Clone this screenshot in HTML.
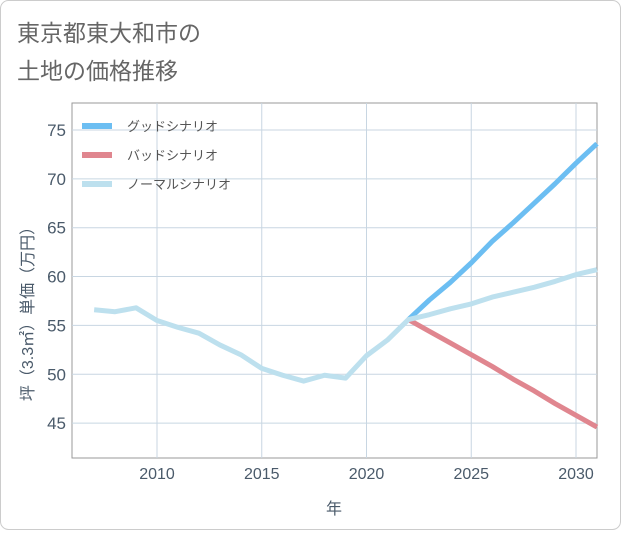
<!DOCTYPE html>
<html><head><meta charset="utf-8"><style>
body{margin:0;background:#fff;}
svg text{font-family:"Liberation Sans","Noto Sans CJK JP",sans-serif;}
</style></head><body>
<svg width="621" height="530" xmlns="http://www.w3.org/2000/svg" id="chart">
<rect x="0.5" y="0.5" width="620" height="529" rx="8" fill="#fff" stroke="#ccc"/>
<text x="17" y="41" font-size="23" fill="#666">東京都東大和市の</text>
<text x="17" y="79" font-size="23" fill="#666">土地の価格推移</text>
<g id="grid"></g>
<g id="lines"></g>
<g id="legend"></g>
<text x="334" y="514" font-size="16" fill="#4a5a6a" text-anchor="middle">年</text>
<text transform="translate(33,310) rotate(-90)" font-size="16" fill="#4a5a6a" text-anchor="middle">坪（3.3㎡）単価（万円）</text>
</svg>
<script>
const years=[2007,2008,2009,2010,2011,2012,2013,2014,2015,2016,2017,2018,2019,2020,2021,2022,2023,2024,2025,2026,2027,2028,2029,2030,2031];
const normal=[56.6,56.4,56.8,55.5,54.8,54.2,53.0,52.0,50.6,49.9,49.3,49.9,49.6,51.9,53.5,55.6,56.1,56.7,57.2,57.9,58.4,58.9,59.5,60.2,60.7];
const goodYears=[2022,2023,2024,2025,2026,2027,2028,2029,2030,2031];
const good=[55.6,57.6,59.4,61.4,63.6,65.5,67.5,69.5,71.6,73.6];
const bad=[55.6,54.4,53.2,52.0,50.8,49.5,48.3,47.0,45.8,44.6];
const xTicks=[2010,2015,2020,2025,2030];
const yTicks=[45,50,55,60,65,70,75];
const legendLabels=["グッドシナリオ","バッドシナリオ","ノーマルシナリオ"];
const NS="http://www.w3.org/2000/svg";
const L=72,R=597,T=103,B=458;
const x=v=>157+(v-2010)*20.95;
const y=v=>130+(75-v)*9.77;
function mk(tag,attrs,parent){const e=document.createElementNS(NS,tag);for(const k in attrs)e.setAttribute(k,attrs[k]);parent.appendChild(e);return e;}
const grid=document.getElementById('grid');
mk('rect',{x:L,y:T,width:R-L,height:B-T,fill:'#fff',stroke:'#999','stroke-width':1},grid);
xTicks.forEach(t=>{
 const l=mk('line',{x1:x(t),x2:x(t),y1:T,y2:B,stroke:'#c8d6e2'},grid);
 
 
 const tx=mk('text',{x:x(t),y:479,'font-size':16,fill:'#4a5a6a','text-anchor':'middle'},grid);
 tx.textContent=t;
 
 
});
yTicks.forEach(t=>{
 const l=mk('line',{x1:L,x2:R,y1:y(t),y2:y(t),stroke:'#c8d6e2'},grid);
 
 
 const tx=mk('text',{x:66,y:y(t)+6,'font-size':17,fill:'#4a5a6a','text-anchor':'end'},grid);
 tx.textContent=t;
 
 
});
const lines=document.getElementById('lines');
function series(xs,vs,color,name){
 const p=mk('polyline',{points:vs.map((v,i)=>x(xs[i])+','+y(v)).join(' '),fill:'none',stroke:color,'stroke-width':5,'stroke-linejoin':'round'},lines);
 
 
}
series(goodYears,bad,'#e0868f','bad-scenario-line');
series(goodYears,good,'#6cbef2','good-scenario-line');
series(years,normal,'#bde0ee','normal-scenario-line');
const lg=document.getElementById('legend');
const cols=['#6cbef2','#e0868f','#bde0ee'];
legendLabels.forEach((s,i)=>{
 const yy=126+i*29;
 const r=mk('rect',{x:82,y:yy-3,width:30,height:6,fill:cols[i]},lg);
 
 
 const t=mk('text',{x:127,y:yy+5,'font-size':13,fill:'#555'},lg);
 t.textContent=s;
 
 
});
</script>
</body></html>
